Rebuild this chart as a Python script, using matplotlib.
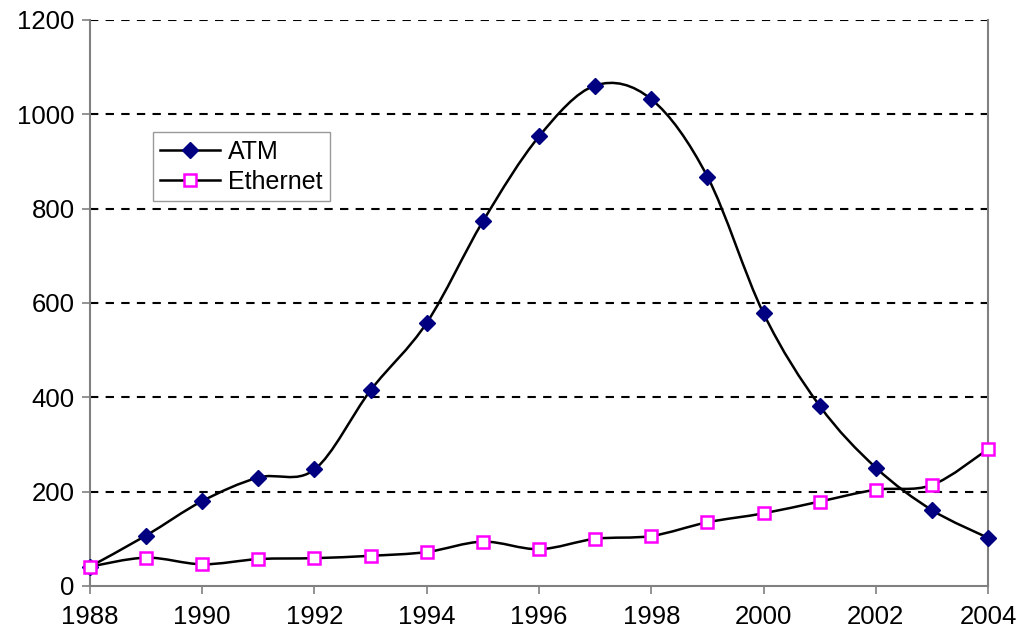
import numpy as np
import matplotlib.pyplot as plt
from matplotlib.path import Path
from matplotlib.patches import PathPatch

plt.rcParams['font.family'] = ['Liberation Sans', 'DejaVu Sans']

# Data
years = list(range(1988, 2005))
atm = [41, 107, 180, 230, 247, 415, 558, 773, 953, 1061, 1032, 868, 578, 382, 251, 161, 102]
ethernet = [41, 60, 46, 57, 59, 64, 72, 94, 78, 100, 106, 135, 154, 179, 204, 214, 290]


def smooth_path(x, y):
    # Excel-style smoothed line: cubic Bezier with Catmull-Rom control points
    x = np.asarray(x, float)
    y = np.asarray(y, float)
    pts = np.column_stack([x, y])
    n = len(pts)
    verts = [pts[0]]
    codes = [Path.MOVETO]
    for i in range(n - 1):
        p0 = pts[max(i - 1, 0)]
        p1 = pts[i]
        p2 = pts[i + 1]
        p3 = pts[min(i + 2, n - 1)]
        c1 = p1 + (p2 - p0) / 6.0
        c2 = p2 - (p3 - p1) / 6.0
        verts += [c1, c2, p2]
        codes += [Path.CURVE4] * 3
    return Path(verts, codes)


fig = plt.figure(figsize=(10.19, 6.32), dpi=100)
ax = fig.add_axes([0.0883, 0.0728, 0.8813, 0.8956])

for yv in range(200, 1201, 200):
    ax.axhline(yv, color='black', lw=1.5, ls=(0, (4, 3.5)), zorder=1)

ax.add_patch(PathPatch(smooth_path(years, atm), fill=False, color='black', lw=1.8, zorder=2))
ax.add_patch(PathPatch(smooth_path(years, ethernet), fill=False, color='black', lw=1.8, zorder=2))

ax.plot(years, atm, ls='none', marker='D', ms=8.5, color='#000080', zorder=3, clip_on=False)
ax.plot(years, ethernet, ls='none', marker='s', ms=9, mfc='white', mec='#ff00ff', mew=1.8,
        zorder=3, clip_on=False)

# legend handles
h1, = ax.plot([], [], color='black', lw=1.8, marker='D', ms=8.5, mfc='#000080', mec='#000080')
h2, = ax.plot([], [], color='black', lw=1.8, marker='s', ms=9, mfc='white', mec='#ff00ff', mew=1.8)
leg = ax.legend([h1, h2], ['ATM', 'Ethernet'], loc='upper left', bbox_to_anchor=(0.07, 0.802),
                borderaxespad=0, fontsize=18, frameon=True, fancybox=False, handlelength=2.4,
                borderpad=0.3, labelspacing=0.25, handletextpad=0.3)
leg.get_frame().set_edgecolor('#808080')
leg.get_frame().set_linewidth(1.0)

ax.set_xlim(1988, 2004)
ax.set_ylim(0, 1200)
ax.set_xticks(range(1988, 2005, 2))
ax.set_yticks(range(0, 1201, 200))
ax.tick_params(axis='both', labelsize=18.5, length=6, width=1.2, color='#808080', direction='out')
ax.tick_params(axis='x', pad=8)
ax.tick_params(axis='y', pad=5)

for side in ['left', 'bottom', 'right']:
    ax.spines[side].set_color('#808080')
    ax.spines[side].set_linewidth(1.5)
ax.spines['top'].set_visible(False)

fig.savefig('out.png', dpi=100)
